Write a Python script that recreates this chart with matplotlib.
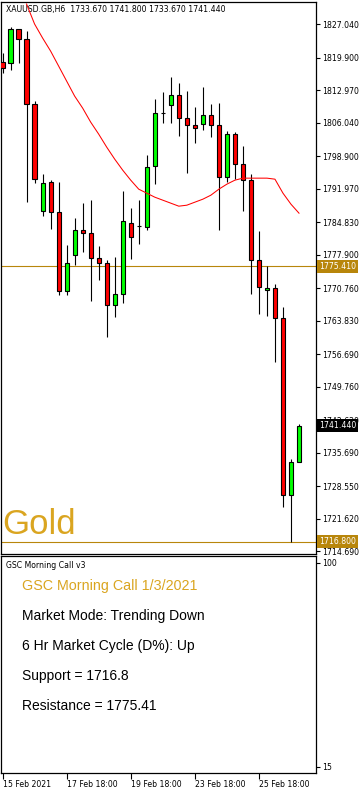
import matplotlib
matplotlib.use("Agg")
import matplotlib.pyplot as plt

# 6H candles, XAUUSD (open, high, low, close)
opens = [1818.94, 1818.66, 1825.97, 1823.78, 1809.92, 1787.24, 1793.29, 1786.90,
         1770.27, 1777.86, 1783.27, 1782.63, 1777.30, 1776.24, 1767.28, 1769.63,
         1784.76, 1784.04, 1783.91, 1796.70, 1808.00, 1809.71, 1811.84, 1806.94,
         1805.44, 1805.66, 1807.64, 1805.44, 1794.36, 1803.52, 1797.13, 1793.72,
         1776.88, 1770.48, 1770.91, 1764.51, 1726.77, 1733.67]
highs = [1820.79, 1826.46, 1826.00, 1825.48, 1810.69, 1795.06, 1793.78, 1793.29,
         1779.92, 1785.68, 1788.94, 1789.52, 1779.71, 1776.73, 1777.43, 1791.44,
         1787.81, 1789.52, 1799.11, 1811.05, 1812.54, 1815.74, 1814.46, 1812.76,
         1809.34, 1813.61, 1809.98, 1810.20, 1804.16, 1803.95, 1800.97, 1795.00,
         1782.91, 1775.51, 1771.76, 1766.85, 1734.30, 1741.80]
lows = [1816.66, 1817.23, 1818.66, 1789.16, 1793.08, 1786.17, 1783.34, 1769.27,
        1769.27, 1775.66, 1778.50, 1768.05, 1772.46, 1760.37, 1764.64, 1767.62,
        1776.94, 1780.20, 1783.27, 1792.99, 1806.00, 1806.00, 1803.16, 1795.34,
        1801.61, 1804.44, 1802.88, 1783.27, 1793.42, 1793.93, 1787.11, 1769.63,
        1765.36, 1764.79, 1755.13, 1724.13, 1716.80, 1733.67]
closes = [1817.60, 1825.97, 1823.78, 1809.92, 1793.93, 1793.08, 1786.90, 1770.27,
          1776.24, 1783.27, 1782.63, 1777.22, 1776.24, 1767.28, 1769.63, 1784.98,
          1781.78, 1784.04, 1796.49, 1808.00, 1808.00, 1811.84, 1806.94, 1805.44,
          1804.80, 1807.57, 1805.44, 1794.36, 1803.52, 1797.13, 1793.72, 1776.88,
          1771.12, 1770.91, 1764.51, 1726.77, 1733.67, 1741.44]

# moving average, from candle 3 onward
ma_start = 3
ma = [1831.30, 1827.04, 1824.06, 1821.28, 1818.09, 1814.89, 1811.69, 1809.13,
      1806.15, 1803.59, 1800.82, 1798.26, 1795.91, 1793.78, 1791.86, 1791.01,
      1790.16, 1789.52, 1788.88, 1788.24, 1788.45, 1789.09, 1789.73, 1790.58,
      1791.86, 1792.93, 1793.78, 1794.21, 1794.21, 1794.21, 1794.21, 1793.99,
      1791.01, 1788.66, 1786.75]

price_ticks = [1827.04, 1819.90, 1812.97, 1806.04, 1798.90, 1791.97, 1784.83,
               1777.90, 1770.76, 1763.83, 1756.69, 1749.76, 1742.62, 1735.69,
               1728.55, 1721.62, 1714.69]
date_pos = [0, 8, 16, 24, 32]
date_labels = ["15 Feb 2021", "17 Feb 18:00", "19 Feb 18:00", "23 Feb 18:00", "25 Feb 18:00"]

support = 1716.80
resistance = 1775.41
last_price = 1741.44

info_lines = ["Market Mode: Trending Down", "6 Hr Market Cycle (D%): Up",
              "Support = 1716.8", "Resistance = 1775.41"]

W, H = 364, 790
GOLD = "#DAA520"
LINE_GOLD = "#B8860B"
SMALL = 5.6


def box(x0, y0, x1, y1):
    # pixel box -> figure fraction rect
    return [x0 / W, 1 - y1 / H, (x1 - x0) / W, (y1 - y0) / H]


fig = plt.figure(figsize=(W / 100, H / 100), dpi=100)

# --- main price panel
ax = fig.add_axes(box(1, 2, 315.5, 553.5))
for i in range(len(opens)):
    o, h, l, c = opens[i], highs[i], lows[i], closes[i]
    ax.vlines(i, l, h, color="black", lw=0.8, zorder=2)
    col = "#00FF00" if c >= o else "#FF0000"
    ax.bar(i, max(abs(c - o), 0.05), bottom=min(o, c), width=0.52,
           color=col, edgecolor="black", linewidth=0.8, zorder=3)

ax.plot(range(ma_start, ma_start + len(ma)), ma, color="red", lw=0.75, zorder=4)
ax.axhline(resistance, color=LINE_GOLD, lw=0.8, zorder=1)
ax.axhline(support, color=LINE_GOLD, lw=0.8, zorder=1)

ax.set_xlim(-0.19, 39.06)
ax.set_ylim(1714.26, 1831.73)
ax.set_xticks([])
ax.yaxis.tick_right()
ax.set_yticks(price_ticks)
ax.set_yticklabels([f"{p:.3f}" for p in price_ticks])
ax.tick_params(axis="y", length=3, width=0.8, pad=2, labelsize=SMALL)
for s in ax.spines.values():
    s.set_linewidth(0.9)

ax.text(0.015, 0.995, "XAUUSD.GB,H6  1733.670 1741.800 1733.670 1741.440",
        transform=ax.transAxes, fontsize=SMALL, va="top", ha="left")
ax.text(0.005, 0.022, "Gold", transform=ax.transAxes, fontsize=25,
        color=GOLD, family="Liberation Sans", va="bottom", ha="left")

ytr = ax.get_yaxis_transform()
for val, fc in [(resistance, LINE_GOLD), (support, LINE_GOLD), (last_price, "black")]:
    ax.text(1.012, val, f"{val:.3f}", transform=ytr, fontsize=SMALL, color="white",
            va="center", ha="left", clip_on=False, zorder=10,
            bbox=dict(boxstyle="square,pad=0.25", fc=fc, ec="none"))

# --- lower indicator panel
ax2 = fig.add_axes(box(1, 556, 315.5, 773))
ax2.set_xlim(-0.19, 39.06)
ax2.set_ylim(12.5, 102.9)
ax2.yaxis.tick_right()
ax2.set_yticks([15, 100])
ax2.set_yticklabels(["15", "100"])
ax2.tick_params(axis="y", length=3, width=0.8, pad=2, labelsize=SMALL)
ax2.set_xticks(date_pos)
ax2.set_xticklabels(date_labels, ha="left")
ax2.tick_params(axis="x", length=4, width=0.8, pad=1, labelsize=SMALL)
for s in ax2.spines.values():
    s.set_linewidth(0.9)

ax2.text(5 / 314.5, 1 - 9 / 217, "GSC Morning Call v3", transform=ax2.transAxes,
         fontsize=SMALL, va="center", ha="left")
ax2.text(21 / 314.5, 1 - 30 / 217, "GSC Morning Call 1/3/2021", transform=ax2.transAxes,
         fontsize=10.3, color=GOLD, family="Liberation Sans", va="center", ha="left")
for k, line in enumerate(info_lines):
    ax2.text(21 / 314.5, 1 - (60 + 30 * k) / 217, line, transform=ax2.transAxes,
             fontsize=10, color="black", family="Liberation Sans", va="center", ha="left")

fig.savefig("out.png", dpi=100)
